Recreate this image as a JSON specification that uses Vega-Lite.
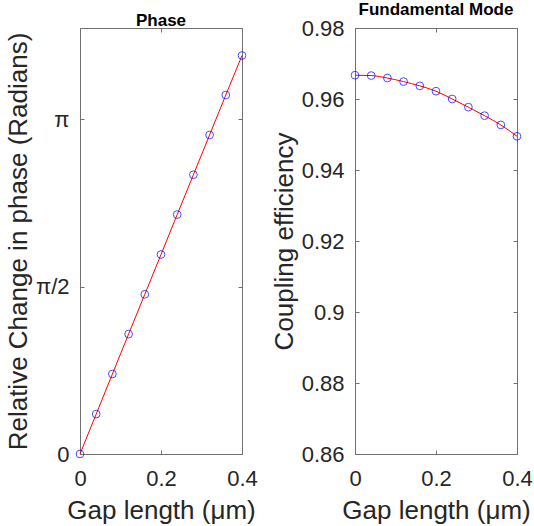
{
  "$schema": "https://vega.github.io/schema/vega-lite/v6.json",
  "padding": {"left": 4, "top": 0, "right": 0, "bottom": 0},
  "bounds": "flush",
  "spacing": 113,
  "config": {
    "font": "Liberation Sans",
    "view": {"stroke": "#707070", "strokeWidth": 1},
    "axis": {
      "labelFont": "Liberation Sans",
      "titleFont": "Liberation Sans",
      "labelFontSize": 22,
      "titleFontSize": 26,
      "titleFontWeight": "normal",
      "labelColor": "#262626",
      "titleColor": "#262626",
      "labelFlush": false,
      "domain": false,
      "grid": false,
      "tickColor": "#707070",
      "tickSize": -4
    },
    "axisX": {"labelPadding": 18, "titlePadding": 8},
    "axisY": {"labelPadding": 15},
    "title": {"font": "Liberation Sans", "fontSize": 17, "fontWeight": "bold", "color": "#000000", "offset": -2}
  },
  "datasets": {
    "phase": [
      {"gap": 0.0, "val": 0.0},
      {"gap": 0.04, "val": 0.375},
      {"gap": 0.08, "val": 0.751},
      {"gap": 0.12, "val": 1.126},
      {"gap": 0.16, "val": 1.499},
      {"gap": 0.2, "val": 1.873},
      {"gap": 0.24, "val": 2.248},
      {"gap": 0.28, "val": 2.622},
      {"gap": 0.32, "val": 2.996},
      {"gap": 0.36, "val": 3.371},
      {"gap": 0.4, "val": 3.742}
    ],
    "coupling": [
      {"gap": 0.0, "val": 0.9667},
      {"gap": 0.04, "val": 0.9666},
      {"gap": 0.08, "val": 0.9659},
      {"gap": 0.12, "val": 0.9649},
      {"gap": 0.16, "val": 0.9637},
      {"gap": 0.2, "val": 0.9622},
      {"gap": 0.24, "val": 0.9600},
      {"gap": 0.28, "val": 0.9577},
      {"gap": 0.32, "val": 0.9553},
      {"gap": 0.36, "val": 0.9527},
      {"gap": 0.4, "val": 0.9495}
    ]
  },
  "hconcat": [
    {
      "title": "Phase",
      "width": 162,
      "height": 426,
      "data": {"name": "phase"},
      "layer": [
        {
          "mark": {"type": "line", "color": "#ff0000", "strokeWidth": 1},
          "encoding": {
            "x": {"field": "gap", "type": "quantitative", "scale": {"domain": [0, 0.4], "nice": false}, "axis": {"orient": "bottom", "values": [0, 0.2, 0.4], "format": "~g", "title": "Gap length (μm)"}},
            "y": {"field": "val", "type": "quantitative", "scale": {"domain": [0, 4], "nice": false, "zero": false}, "axis": {"orient": "left", "values": [0, 1.5707963, 3.1415927], "labelExpr": "datum.value == 0 ? '0' : datum.value < 2 ? 'π/2' : 'π'", "title": "Relative Change in phase (Radians)"}}
          }
        },
        {
          "mark": {"type": "point", "shape": "circle", "filled": false, "color": "#0000ff", "strokeWidth": 1, "size": 60},
          "encoding": {
            "x": {"field": "gap", "type": "quantitative", "axis": {"orient": "top", "values": [0, 0.2, 0.4], "labels": false, "title": null}},
            "y": {"field": "val", "type": "quantitative", "axis": {"orient": "right", "values": [0, 1.5707963, 3.1415927], "labels": false, "title": null}}
          }
        }
      ],
      "resolve": {"axis": {"x": "independent", "y": "independent"}}
    },
    {
      "title": "Fundamental Mode",
      "width": 162,
      "height": 426,
      "data": {"name": "coupling"},
      "layer": [
        {
          "mark": {"type": "line", "color": "#ff0000", "strokeWidth": 1, "interpolate": "monotone"},
          "encoding": {
            "x": {"field": "gap", "type": "quantitative", "scale": {"domain": [0, 0.4], "nice": false}, "axis": {"orient": "bottom", "values": [0, 0.2, 0.4], "format": "~g", "title": "Gap length (μm)"}},
            "y": {"field": "val", "type": "quantitative", "scale": {"domain": [0.86, 0.98], "nice": false, "zero": false}, "axis": {"orient": "left", "values": [0.86, 0.88, 0.9, 0.92, 0.94, 0.96, 0.98], "format": "~g", "title": "Coupling efficiency"}}
          }
        },
        {
          "mark": {"type": "point", "shape": "circle", "filled": false, "color": "#0000ff", "strokeWidth": 1, "size": 60},
          "encoding": {
            "x": {"field": "gap", "type": "quantitative", "axis": {"orient": "top", "values": [0, 0.2, 0.4], "labels": false, "title": null}},
            "y": {"field": "val", "type": "quantitative", "axis": {"orient": "right", "values": [0.86, 0.88, 0.9, 0.92, 0.94, 0.96, 0.98], "labels": false, "title": null}}
          }
        }
      ],
      "resolve": {"axis": {"x": "independent", "y": "independent"}}
    }
  ]
}
